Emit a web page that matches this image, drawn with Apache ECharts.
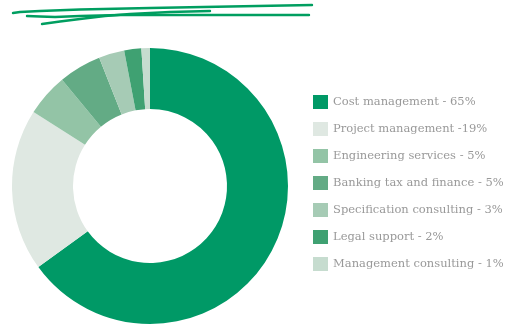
<!DOCTYPE html>
<html><head><meta charset="utf-8">
<script src="https://cdn.jsdelivr.net/npm/echarts@6/dist/echarts.min.js"></script>
<style>html,body{margin:0;padding:0;background:#fff}#c{width:516px;height:324px}</style>
</head><body><div id="c"></div>
<script>
const categories = ['Cost management - 65%','Project management -19%','Engineering services - 5%','Banking tax and finance - 5%','Specification consulting - 3%','Legal support - 2%','Management consulting - 1%'];
const values = [65, 19, 5, 5, 3, 2, 1];
const colors = ['#009966','#dfe8e2','#93c4a6','#63ab85','#a6cbb5','#3fa172','#c6dccf'];

const chart = echarts.init(document.getElementById('c'));
chart.setOption({
  animation: false,
  color: colors,
  legend: {
    orient: 'vertical', left: 308, top: 90,
    itemWidth: 15, itemHeight: 14, itemGap: 13,
    icon: 'rect',
    textStyle: { color: '#999999', fontSize: 11.5, fontFamily: 'DejaVu Serif' },
    data: categories
  },
  graphic: [
    { type: 'polyline', shape: { points: [[13,13],[20,12],[40,11],[80,9.5],[150,8],[230,6.5],[312,5]] }, style: { stroke: '#009e60', lineWidth: 2.4, fill: null, lineCap: 'round', lineJoin: 'round' } },
    { type: 'polyline', shape: { points: [[27,16],[40,16.5],[55,17],[80,16],[120,15],[200,15],[309,15]] }, style: { stroke: '#009e60', lineWidth: 2.4, fill: null, lineCap: 'round', lineJoin: 'round' } },
    { type: 'polyline', shape: { points: [[42,24],[60,21.5],[80,19],[105,16],[130,14],[170,12],[210,11]] }, style: { stroke: '#009e60', lineWidth: 2.4, fill: null, lineCap: 'round', lineJoin: 'round' } }
  ],
  series: [{
    type: 'pie',
    center: [150, 186],
    radius: [77, 138],
    startAngle: 90,
    clockwise: true,
    label: { show: false },
    labelLine: { show: false },
    emphasis: { disabled: true },
    data: categories.map((n, i) => ({ name: n, value: values[i] }))
  }]
});
</script></body></html>
